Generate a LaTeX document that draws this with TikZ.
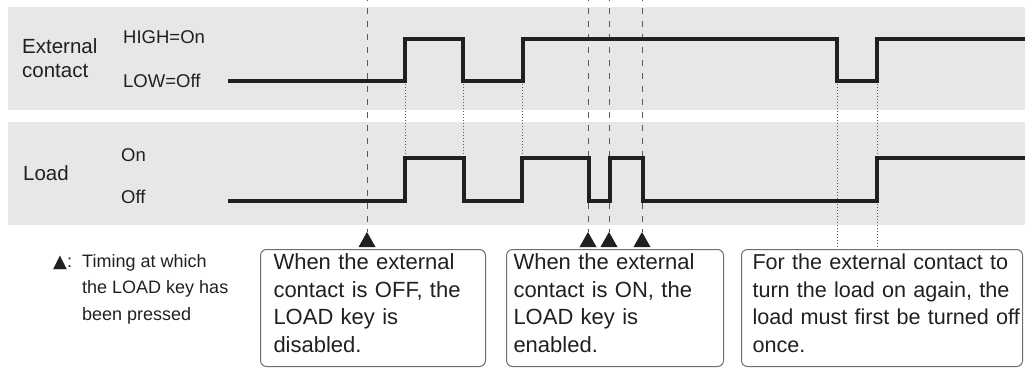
\documentclass[tikz,border=0pt]{standalone}
\usepackage{fontspec}
\setmainfont{Liberation Sans}
\newfontfamily\symfont{DejaVu Sans}
\definecolor{panel}{RGB}{230,231,232}
\definecolor{ink}{RGB}{35,31,32}
\definecolor{guide}{RGB}{88,89,91}
\definecolor{frame}{RGB}{109,110,113}
% filled key-press marker, apex at node #1
\newcommand\keyTri[1]{\fill[ink] (#1) -- ++(-8.5,15) -- ++(17,0) -- cycle;}

\begin{document}
\begin{tikzpicture}[x=1pt, y=-1pt, line join=miter,
    lab/.style={inner sep=0pt, anchor=base west, text=ink},
    big/.style={font=\fontsize{20.5}{24}\selectfont},
    small/.style={font=\fontsize{18.5}{22}\selectfont},
    wave/.style={draw=ink, line width=3.6pt},
    pressline/.style={draw=guide, line width=0.9pt, dash pattern=on 6pt off 7pt},
    syncline/.style={draw=guide, line width=0.9pt, dash pattern=on 1.3pt off 1.7pt},
    notebox/.style={draw=frame, line width=1pt, rounded corners=6pt,
      anchor=north west, text=ink, align=left, inner ysep=0pt,
      text height=20pt, text depth=97pt,
      font=\fontsize{22}{27.7}\selectfont}]
  \useasboundingbox (0,0) rectangle (1032,367);
  % signal levels
  \def\yHi{39} \def\yLo{81} \def\yOn{158} \def\yOff{201}
  % ---- panels --------------------------------------------------------
  \fill[panel] (8,7) rectangle (1025,110);
  \fill[panel] (8,122) rectangle (1025,225);
  % ---- labels --------------------------------------------------------
  \node[lab, big] (ext1) at (22,53) {External};
  \node[lab, big] (ext2) at (22,77) {contact};
  \node[lab, small] (hi) at (123,43) {HIGH=On};
  \node[lab, small] (lo) at (123,87) {LOW=Off};
  \node[lab, big] (load) at (23,180) {Load};
  \node[lab, small] (on) at (121,161) {On};
  \node[lab, small] (off) at (121,203) {Off};
  % ---- notes ---------------------------------------------------------
  \node[notebox, inner xsep=13pt, text width=199pt] (box1) at (260,249)
    {When the external\\contact is OFF, the\\LOAD key is\\disabled.};
  \node[notebox, inner xsep=7pt, text width=203pt] (box2) at (506,249)
    {When the external\\contact is ON, the\\LOAD key is\\enabled.};
  \node[notebox, inner xsep=11pt, text width=259pt,
    font=\fontsize{21.6}{27.7}\selectfont] (box3) at (741,249)
    {\mbox{For the external contact to}\\\mbox{turn the load on again, the}\\
     \mbox{load must first be turned off}\\once.};
  \node[lab, anchor=north west, align=left, font=\fontsize{18}{26.5}\selectfont]
    (legend) at (53,254)
    {\makebox[29pt][l]{{\symfont ▲}:}Timing at which\\
     \hspace*{29pt}the LOAD key has\\\hspace*{29pt}been pressed};
  % ---- guide lines ---------------------------------------------------
  \coordinate (top) at (0,-5);
  \foreach \x [count=\i] in {367,588,609,642}{
    \coordinate (key\i) at (\x,232);
    \draw[pressline] (key\i |- top) -- (key\i);
    \keyTri{key\i}
  }
  \foreach \x [count=\i] in {405,463,522}{
    \coordinate (s\i) at (\x,\yLo);
    \draw[syncline] (s\i) -- (s\i |- 0,\yOn);
  }
  \foreach \x [count=\i] in {837,877}{
    \coordinate (r\i) at (\x,\yLo);
    \draw[syncline] (r\i) -- (r\i |- box3.north);
  }
  % ---- waveforms -----------------------------------------------------
  \draw[wave] (228,\yLo) -| (405,\yHi) -| (463,\yLo) -| (523,\yHi)
    -| (837,\yLo) -| (877,\yHi) -- (1025,\yHi);
  \draw[wave] (228,\yOff) -| (405,\yOn) -| (464,\yOff) -| (522,\yOn)
    -| (589,\yOff) -| (610,\yOn) -| (643,\yOff) -| (877,\yOn) -- (1025,\yOn);
\end{tikzpicture}
\end{document}
